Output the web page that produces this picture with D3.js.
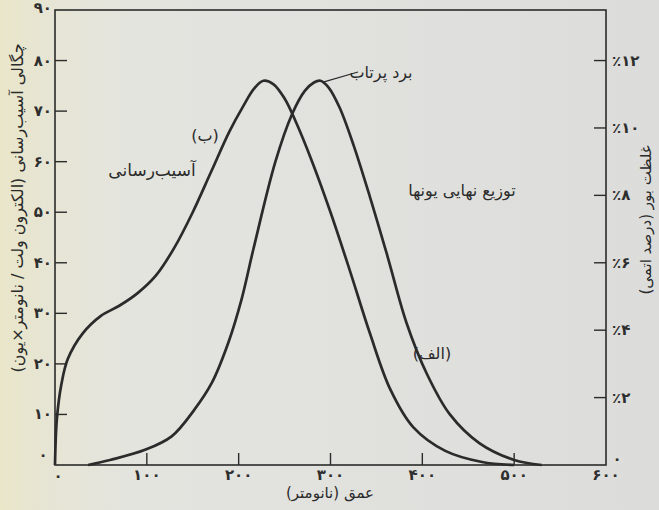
<!DOCTYPE html>
<html>
<head>
<meta charset="utf-8">
<script src="https://cdn.jsdelivr.net/npm/d3@7"></script>
<style>
body { margin: 0; background: #e2e2dd; }
svg { display: block; }
.ticklabel { font-family: "DejaVu Sans", sans-serif; font-size: 15px; font-weight: bold; fill: #2e2e2e; }
.title { font-family: "DejaVu Sans", sans-serif; font-size: 15px; fill: #2a2a2a; }
.note { font-family: "DejaVu Sans", sans-serif; font-size: 16px; fill: #2a2a2a; }
</style>
</head>
<body>
<svg></svg>
<script>
// depth (nm) vs damage density (left axis)
var damageDepth = [0, 2, 7, 14, 30, 50, 70, 90, 110, 130, 150, 170, 190, 205, 217, 227, 238, 250, 262, 280, 300, 321, 343, 365, 390, 425, 465, 500];
var damageValue = [0, 9, 16, 21, 26, 29.5, 31.5, 34, 37.5, 43, 50, 58, 66, 71, 74.5, 76, 75.3, 72.5, 68, 60, 50, 38.5, 26, 15, 7.5, 2.8, 0.6, 0];

// depth (nm) vs boron concentration (right axis, atomic %)
var ionDepth = [36, 60, 98, 127, 152, 171, 189, 203, 216, 240, 258, 272, 282, 289, 298, 310, 325, 343, 362, 383, 405, 430, 462, 500, 530];
var ionValue = [0, 0.15, 0.45, 0.85, 1.65, 2.45, 3.65, 4.9, 6.4, 9.0, 10.4, 11.1, 11.35, 11.4, 11.2, 10.6, 9.5, 7.95, 6.2, 4.2, 2.7, 1.5, 0.65, 0.15, 0];

var xTicks = [100, 200, 300, 400, 500, 600];
var xTickLabels = ['۱۰۰', '۲۰۰', '۳۰۰', '۴۰۰', '۵۰۰', '۶۰۰'];
var yTicks = [10, 20, 30, 40, 50, 60, 70, 80, 90];
var yTickLabels = ['۱۰', '۲۰', '۳۰', '۴۰', '۵۰', '۶۰', '۷۰', '۸۰', '۹۰'];
var y2Ticks = [2, 4, 6, 8, 10, 12];
var y2TickLabels = ['٪۲', '٪۴', '٪۶', '٪۸', '٪۱۰', '٪۱۲'];

var width = 659, height = 510;
var ink = '#2b2b2b';

var svg = d3.select('svg').attr('width', width).attr('height', height);

// scanned paper look
var defs = svg.append('defs');
var grad = defs.append('linearGradient').attr('id', 'paper')
    .attr('x1', '0').attr('x2', '1').attr('y1', '0').attr('y2', '0');
grad.append('stop').attr('offset', '0').attr('stop-color', '#e9e6c9');
grad.append('stop').attr('offset', '0.08').attr('stop-color', '#e6e5d5');
grad.append('stop').attr('offset', '0.2').attr('stop-color', '#e4e4df');
grad.append('stop').attr('offset', '1').attr('stop-color', '#dcdddb');
svg.append('rect').attr('width', width).attr('height', height).attr('fill', 'url(#paper)');

var x = d3.scaleLinear().domain([0, 600]).range([55, 606]);
var y = d3.scaleLinear().domain([0, 90]).range([465, 10]);
var y2 = d3.scaleLinear().domain([0, 13.5]).range([465, 10]);

// frame
svg.append('rect')
    .attr('x', x(0)).attr('y', y(90))
    .attr('width', x(600) - x(0)).attr('height', y(0) - y(90))
    .attr('fill', 'none').attr('stroke', ink).attr('stroke-width', 1.6);

// ticks, all pointing inward
var tlen = 12;
svg.append('g').selectAll('line').data(xTicks.slice(0, 5)).enter().append('line')
    .attr('x1', function(d) { return x(d); }).attr('x2', function(d) { return x(d); })
    .attr('y1', y(0)).attr('y2', y(0) - tlen)
    .attr('stroke', ink).attr('stroke-width', 1.4);
svg.append('g').selectAll('line').data(yTicks.slice(0, 8)).enter().append('line')
    .attr('x1', x(0)).attr('x2', x(0) + tlen)
    .attr('y1', function(d) { return y(d); }).attr('y2', function(d) { return y(d); })
    .attr('stroke', ink).attr('stroke-width', 1.4);
svg.append('g').selectAll('line').data(y2Ticks).enter().append('line')
    .attr('x1', x(600)).attr('x2', x(600) - tlen)
    .attr('y1', function(d) { return y2(d); }).attr('y2', function(d) { return y2(d); })
    .attr('stroke', ink).attr('stroke-width', 1.4);

// tick labels
svg.append('g').selectAll('text').data(xTicks).enter().append('text')
    .attr('class', 'ticklabel')
    .attr('x', function(d) { return x(d); }).attr('y', y(0) + 15)
    .attr('text-anchor', 'middle')
    .text(function(d, i) { return xTickLabels[i]; });
svg.append('g').selectAll('text').data(yTicks).enter().append('text')
    .attr('class', 'ticklabel')
    .attr('x', x(0) - 3).attr('y', function(d, i) { return y(d) + (d == 90 ? 3 : 5); })
    .attr('text-anchor', 'end')
    .text(function(d, i) { return yTickLabels[i]; });
svg.append('g').selectAll('text').data(y2Ticks).enter().append('text')
    .attr('class', 'ticklabel')
    .attr('x', x(600) + 6).attr('y', function(d) { return y2(d) + 5; })
    .attr('text-anchor', 'start')
    .text(function(d, i) { return y2TickLabels[i]; });

// the three zeros
svg.append('text').attr('class', 'ticklabel').attr('x', x(0) - 12).attr('y', y(0) - 5).attr('text-anchor', 'middle').text('۰');
svg.append('text').attr('class', 'ticklabel').attr('x', x(0) + 3).attr('y', y(0) + 16).attr('text-anchor', 'middle').text('۰');
svg.append('text').attr('class', 'ticklabel').attr('x', x(600) + 11).attr('y', y(0) - 1).attr('text-anchor', 'middle').text('۰');

// axis titles
svg.append('text').attr('class', 'title')
    .attr('x', 330).attr('y', 498).attr('text-anchor', 'middle')
    .text('عمق (نانومتر)');
svg.append('text').attr('class', 'title')
    .style('font-size', '16px')
    .attr('transform', 'translate(23,208) rotate(-90)')
    .attr('text-anchor', 'middle')
    .text('چگالی آسیب‌رسانی (الکترون ولت / نانومتر×یون)');
svg.append('text').attr('class', 'title')
    .attr('transform', 'translate(651,220) rotate(-90)')
    .attr('text-anchor', 'middle')
    .text('غلظت بور (درصد اتمی)');

// curves
var damage = damageDepth.map(function(d, i) { return [d, damageValue[i]]; });
var ions = ionDepth.map(function(d, i) { return [d, ionValue[i]]; });

svg.append('path').datum(damage)
    .attr('d', d3.line().curve(d3.curveCatmullRom.alpha(0.5))
        .x(function(d) { return x(d[0]); })
        .y(function(d) { return y(d[1]); }))
    .attr('fill', 'none').attr('stroke', ink).attr('stroke-width', 2.7);

svg.append('path').datum(ions)
    .attr('d', d3.line().curve(d3.curveCatmullRom.alpha(0.5))
        .x(function(d) { return x(d[0]); })
        .y(function(d) { return y2(d[1]); }))
    .attr('fill', 'none').attr('stroke', ink).attr('stroke-width', 2.7);

// annotations
svg.append('line')
    .attr('x1', x(291)).attr('y1', y2(11.35))
    .attr('x2', 358).attr('y2', 72)
    .attr('stroke', ink).attr('stroke-width', 1.3);
svg.append('text').attr('class', 'note').attr('x', 381).attr('y', 78).attr('text-anchor', 'middle').text('برد پرتاب');
svg.append('text').attr('class', 'note').attr('x', 205).attr('y', 141).attr('text-anchor', 'middle').text('(ب)');
svg.append('text').attr('class', 'note').style('font-size', '17px').attr('x', 152).attr('y', 176).attr('text-anchor', 'middle').text('آسیب‌رسانی');
svg.append('text').attr('class', 'note').attr('x', 462).attr('y', 196).attr('text-anchor', 'middle').text('توزیع نهایی یونها');
svg.append('text').attr('class', 'note').attr('x', 432).attr('y', 359).attr('text-anchor', 'middle').text('(الف)');
</script>
</body>
</html>
